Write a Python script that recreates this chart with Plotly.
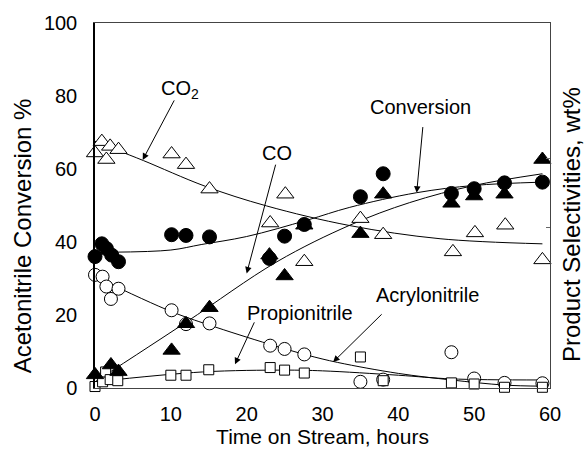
import plotly.graph_objects as go

# ---- data ----
t_conv = [0, 0.9, 1.5, 2.2, 3.1, 10.1, 12, 15.1, 23, 25, 27.6, 35, 38, 47, 50, 54, 59]
conv = [36, 39.5, 38.2, 36.4, 34.6, 42, 41.8, 41.4, 35.5, 41.6, 44.8, 52.4, 58.7, 53.3, 54.6, 56.2, 56.4]

t_co = [0, 1.1, 2.1, 3.1, 10.1, 12, 15.1, 23, 25, 27.6, 35, 38, 47, 50, 54, 59]
co = [3.6, -0.3, 6.3, 4.5, 10.3, 17.6, 22.0, 36.4, 30.7, 44.6, 42.3, 53.1, 50.6, 52.6, 53.1, 62.6]

t_co2 = [0, 0.9, 1.5, 2, 3.1, 10.1, 12, 15.1, 23.1, 25.1, 27.6, 35, 38, 47.2, 50.1, 54.1, 59]
co2 = [64.4, 67.5, 62.6, 66.2, 65.3, 64.1, 61.2, 54.5, 45.2, 53.1, 34.6, 46.4, 42.0, 37.3, 42.5, 44.6, 35.1]

t_acr = [0, 1, 1.5, 2.1, 3.1, 10.1, 12, 15.1, 23.1, 25, 27.6, 35, 38, 47, 50, 54, 59]
acr = [31, 30.5, 27.8, 24.4, 27.2, 21.3, 17.5, 17.7, 11.6, 10.7, 9.2, 1.7, 2.3, 9.8, 2.6, 1.4, 1.3]

t_pro = [0, 1, 1.4, 2, 3, 10, 12, 15, 23.1, 25, 27.6, 35, 38, 47, 50, 54, 59]
pro = [0.4, 1.7, 4.4, 2.3, 2, 3.5, 3.5, 5, 5.6, 4.9, 4.1, 8.5, 2, 1.4, 1.1, 0.2, 0.2]

# fitted trend curves
fit_conv_t = [2, 10, 14, 20, 28, 33.6, 42.4, 50, 59]
fit_conv = [37.2, 37.8, 39.3, 41.5, 46, 49.5, 53.5, 55.5, 56.4]
fit_co_t = [0, 12, 24, 33.6, 41.5, 50, 59]
fit_co = [1.7, 18, 34.6, 44.6, 50.8, 55.5, 58.7]
fit_co2_t = [0, 3, 6.4, 14.5, 22.6, 33.6, 45.5, 59]
fit_co2 = [67.6, 65.1, 62.3, 55.3, 49.9, 44.5, 40.9, 39.5]
fit_acr_t = [0, 10, 15, 23, 28, 32, 40, 47, 54, 59]
fit_acr = [30.5, 21, 17.3, 12, 9, 7, 4, 2.2, 0.8, 0.5]
fit_pro_t = [0, 14.2, 25, 30, 40, 47, 59]
fit_pro = [1.7, 4.4, 4.9, 4.7, 3.5, 2.5, 2.2]

x_ticks = [0, 10, 20, 30, 40, 50, 60]
y_ticks = [0, 20, 40, 60, 80, 100]

# label text, text position, arrow tail, arrow tip (data coords)
labels = ["CO<sub>2</sub>", "CO", "Conversion", "Propionitrile", "Acrylonitrile"]
label_x = [11.2, 23.96, 42.86, 27.03, 43.8]
label_y = [81.9, 64.3, 76.9, 20.6, 25.6]
arrow_tail_x = [10.55, 23.87, 43.25, 21.1, 38.0]
arrow_tail_y = [79.2, 61.6, 71.9, 18.4, 20.6]
arrow_tip_x = [6.29, 20.0, 42.42, 18.46, 31.4]
arrow_tip_y = [62.5, 31.4, 53.5, 6.5, 7.1]

FONT = "Arial, Liberation Sans, sans-serif"

fig = go.Figure()

for tx, ty in [(fit_co2_t, fit_co2), (fit_conv_t, fit_conv), (fit_co_t, fit_co),
               (fit_acr_t, fit_acr), (fit_pro_t, fit_pro)]:
    fig.add_trace(go.Scatter(x=tx, y=ty, mode="lines", line=dict(color="black", width=1, shape="spline"),
                             showlegend=False, hoverinfo="skip", cliponaxis=False))

mk_line = dict(color="black", width=1)
fig.add_trace(go.Scatter(x=t_co2, y=co2, mode="markers", cliponaxis=False, showlegend=False,
                         marker=dict(symbol="triangle-up", size=15, color="white", line=mk_line)))
fig.add_trace(go.Scatter(x=t_acr, y=acr, mode="markers", cliponaxis=False, showlegend=False,
                         marker=dict(symbol="circle", size=13, color="white", line=mk_line)))
fig.add_trace(go.Scatter(x=t_pro, y=pro, mode="markers", cliponaxis=False, showlegend=False,
                         marker=dict(symbol="square", size=10, color="white", line=mk_line)))
fig.add_trace(go.Scatter(x=t_conv, y=conv, mode="markers", cliponaxis=False, showlegend=False,
                         marker=dict(symbol="circle", size=14, color="black", line=mk_line)))
fig.add_trace(go.Scatter(x=t_co, y=co, mode="markers", cliponaxis=False, showlegend=False,
                         marker=dict(symbol="triangle-up", size=15, color="black", line=mk_line)))
# invisible trace for the right axis
fig.add_trace(go.Scatter(x=[0], y=[0], yaxis="y2", mode="markers", marker=dict(opacity=0),
                         showlegend=False, hoverinfo="skip"))

for i in range(len(labels)):
    fig.add_annotation(x=label_x[i], y=label_y[i], text=labels[i], showarrow=False,
                       font=dict(family=FONT, size=20, color="black"), xanchor="center", yanchor="middle")
    fig.add_annotation(x=arrow_tip_x[i], y=arrow_tip_y[i], ax=arrow_tail_x[i], ay=arrow_tail_y[i],
                       axref="x", ayref="y", text="", showarrow=True, arrowhead=2, arrowsize=1.3,
                       arrowwidth=1, arrowcolor="black")

# axis titles on the y sides
fig.add_annotation(xref="paper", yref="paper", x=-0.16, y=0.416, text="Acetonitrile Conversion %",
                   textangle=-90, showarrow=False, xanchor="center", yanchor="middle",
                   font=dict(family=FONT, size=24, color="black"))
fig.add_annotation(xref="paper", yref="paper", x=1.046, y=0.449, text="Product Selectivities, wt%",
                   textangle=-90, showarrow=False, xanchor="center", yanchor="middle",
                   font=dict(family=FONT, size=24, color="black"))

fig.update_layout(
    width=587, height=452,
    margin=dict(l=95, r=37, t=18, b=64),
    plot_bgcolor="white", paper_bgcolor="white",
    font=dict(family=FONT, size=20, color="black"),
    xaxis=dict(range=[0, 60], tickvals=x_ticks, showgrid=False, zeroline=False,
               showline=True, linecolor="#444", linewidth=1, mirror=True, ticks="",
               ticklabelstandoff=8,
               title=dict(text="Time on Stream, hours", standoff=0, font=dict(size=21))),
    yaxis=dict(range=[0, 100], tickvals=y_ticks, showgrid=False, zeroline=False,
               showline=True, linecolor="black", linewidth=1.5, ticks="",
               ticklabelstandoff=12),
    yaxis2=dict(range=[0, 100], overlaying="y", side="right", showgrid=False, zeroline=False,
                showline=True, linecolor="#444", linewidth=1, tickvals=[44, 63], ticks="inside",
                ticklen=4, tickcolor="#666", showticklabels=False),
)

fig.write_html("out.html")
